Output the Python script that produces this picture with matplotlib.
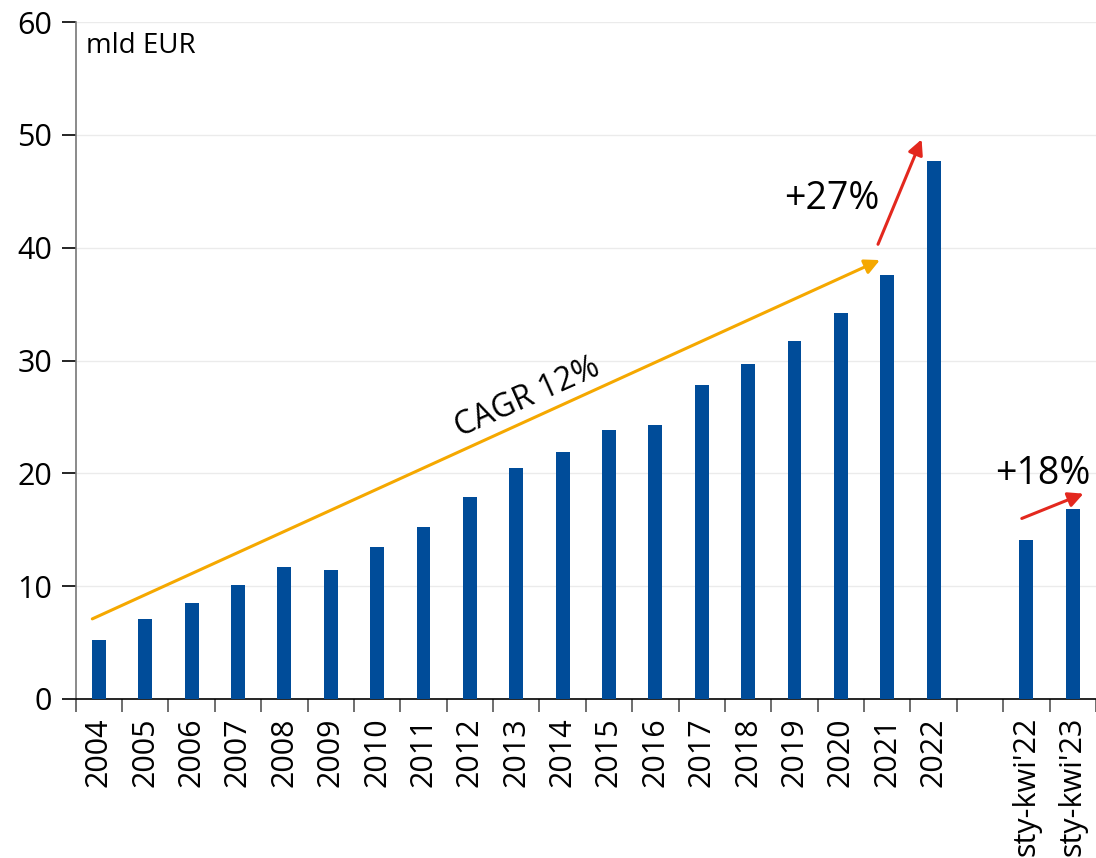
import numpy as np
import matplotlib
matplotlib.use("Agg")
import matplotlib.pyplot as plt

plt.rcParams['font.family'] = ['Open Sans', 'DejaVu Sans']

# data (mld EUR)
categories = [str(y) for y in range(2004, 2023)] + ['', "sty-kwi'22", "sty-kwi'23"]
values = [5.2, 7.1, 8.5, 10.1, 11.7, 11.4, 13.5, 15.2, 17.9, 20.5, 21.9,
          23.8, 24.3, 27.8, 29.7, 31.7, 34.2, 37.6, 47.7,
          np.nan, 14.1, 16.8]

# annotation anchors (category index, value)
cagr_start = (-0.14, 7.1)
cagr_end = (16.84, 38.9)
jump22_start = (16.8, 40.3)
jump22_end = (17.74, 49.6)
jump23_start = (19.9, 16.0)
jump23_end = (21.23, 18.2)

BLUE = '#004c99'
ORANGE = '#f5a800'
RED = '#e3281e'

fig = plt.figure(figsize=(10.96, 8.58), dpi=100)
ax = fig.add_axes([75.6 / 1096, 159 / 858, 1 - 75.6 / 1096, 677 / 858])

x = np.arange(len(categories))
ax.bar(x, values, width=0.3, color=BLUE, zorder=3)

ax.set_xlim(-0.5, 21.36)
ax.set_ylim(0, 60)
ax.set_yticks(range(0, 61, 10))
ax.yaxis.grid(True, color='#ebebeb', linewidth=1, zorder=0)

# labels at bar centres, tick marks at category boundaries
ax.set_xticks(x)
ax.set_xticklabels(categories, rotation=90, fontsize=22)
ax.tick_params(axis='x', which='major', length=0, pad=13)
ax.set_xticks(np.arange(-0.5, len(categories), 1), minor=True)
ax.tick_params(axis='x', which='minor', length=9, width=1.2, color='#555555', direction='out')
ax.tick_params(axis='y', labelsize=22, length=10, width=1.2, direction='out', pad=7)

for s in ['top', 'right']:
    ax.spines[s].set_visible(False)
ax.spines['left'].set_color('#777777')
ax.spines['left'].set_linewidth(1.2)
ax.spines['bottom'].set_color('black')
ax.spines['bottom'].set_linewidth(1.2)

ax.text(0.01, 0.985, 'mld EUR', transform=ax.transAxes, fontsize=20,
        ha='left', va='top')

arrow_kw = dict(arrowstyle='-|>,head_length=0.9,head_width=0.45', shrinkA=0, shrinkB=0)
ax.annotate('', xy=cagr_end, xytext=cagr_start,
            arrowprops=dict(color=ORANGE, lw=2.2, **arrow_kw), zorder=4)
ax.annotate('', xy=jump22_end, xytext=jump22_start,
            arrowprops=dict(color=RED, lw=2.2, **arrow_kw), zorder=4)
ax.annotate('', xy=jump23_end, xytext=jump23_start,
            arrowprops=dict(color=RED, lw=2.2, **arrow_kw), zorder=4)

ax.text(9.25, 26.7, 'CAGR 12%', rotation=24, fontsize=23, ha='center', va='center',
        rotation_mode='anchor')
ax.text(15.8, 44.3, '+27%', fontsize=27, ha='center', va='center')
ax.text(20.35, 19.9, '+18%', fontsize=27, ha='center', va='center')

fig.savefig('out.png', dpi=100)
